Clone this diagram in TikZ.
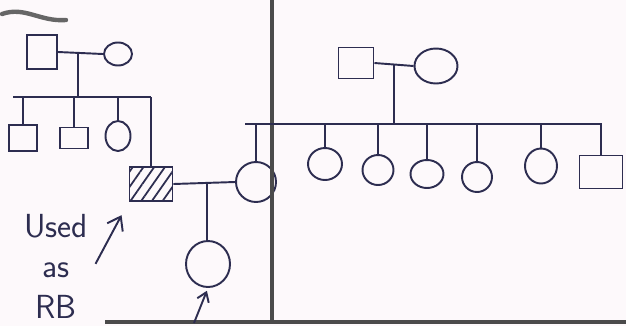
\documentclass[tikz,border=0pt]{standalone}
\usetikzlibrary{shapes.geometric, arrows.meta, patterns.meta, calc}
\definecolor{pen}{RGB}{45,45,80}
\definecolor{divider}{RGB}{75,75,75}
\definecolor{paper}{RGB}{253,249,251}

\begin{document}
\begin{tikzpicture}[x=0.02cm, y=-0.02cm, thick]
    \tikzstyle{male} = [rectangle, draw=pen, line width=1.1pt, inner sep=0pt]
    \tikzstyle{female} = [ellipse, draw=pen, line width=1.1pt, inner sep=0pt]
    \tikzstyle{line} = [draw=pen, line width=1.1pt]
    \tikzstyle{rule} = [draw=divider, line width=1.9pt]

    % Paper
    \fill [paper] (0,0) rectangle (626,326);
    \useasboundingbox (0,0) rectangle (626,326);

    % Nodes, left family
    \node [male, minimum width=0.6cm, minimum height=0.68cm] (gpa) at (42,52) {};
    \node [female, minimum width=0.56cm, minimum height=0.46cm] (gma) at (118,54) {};
    \node [male, minimum width=0.56cm, minimum height=0.52cm] (son1) at (23,138) {};
    \node [male, minimum width=0.56cm, minimum height=0.42cm] (son2) at (74,138) {};
    \node [female, minimum width=0.5cm, minimum height=0.6cm] (dau1) at (118,136) {};
    \node [male, minimum width=0.86cm, minimum height=0.68cm,
           pattern={Lines[angle=55, distance=5pt, line width=1pt]}, pattern color=pen] (rb) at (151,184) {};
    \node [female, minimum size=0.8cm] (wife) at (256,182) {};
    \node [female, minimum width=0.88cm, minimum height=0.92cm] (child) at (208,264) {};
    \node [text=pen, align=center, font=\sffamily\fontsize{19}{23}\selectfont] (note) at (56,266) {Used\\as\\RB};

    % Nodes, right family
    \node [male, minimum width=0.7cm, minimum height=0.62cm] (rpa) at (356,63) {};
    \node [female, minimum width=0.86cm, minimum height=0.7cm] (rma) at (436,66) {};
    \node [female, minimum width=0.68cm, minimum height=0.64cm] (sis1) at (325,164) {};
    \node [female, minimum width=0.62cm, minimum height=0.6cm] (sis2) at (378,170) {};
    \node [female, minimum width=0.66cm, minimum height=0.56cm] (sis3) at (427,174) {};
    \node [female, minimum width=0.6cm, minimum height=0.6cm] (sis4) at (477,177) {};
    \node [female, minimum width=0.64cm, minimum height=0.7cm] (sis5) at (541,166) {};
    \node [male, minimum width=0.86cm, minimum height=0.66cm] (bro1) at (601,172) {};

    % Sibship ends and pointers
    \coordinate (sibL) at (13,97);
    \coordinate (sibR) at (151,97);
    \coordinate (sib2L) at (245,124);
    \coordinate (sib2R) at (602,124);
    \coordinate (ptr) at (194,323);
    \coordinate (m1) at ($(gpa.east)!0.45!(gma.west)$);
    \coordinate (m2) at ($(rb.east)!0.55!(wife.west)$);
    \coordinate (m3) at ($(rpa.east)!0.5!(rma.west)$);

    % Divider
    \draw [rule] (272,0) -- (272,322);
    \draw [rule] (105,322) -- (626,322);
    \draw [divider!85, line width=2.5pt, line cap=round] (2,14) .. controls (25,6) and (40,22) .. (66,20);

    % Connections, left family
    \path [line] (gpa.east) -- (gma.west);
    \path [line] (m1) -- (m1 |- sibL);
    \path [line] (sibL) -- (sibR);
    \path [line] (son1.north |- sibL) -- (son1.north);
    \path [line] (son2.north |- sibL) -- (son2.north);
    \path [line] (dau1.north |- sibL) -- (dau1.north);
    \path [line] (rb.north |- sibR) -- (rb.north);
    \path [line] (rb.east) -- (wife.west);
    \path [line] (m2) -- (m2 |- child.north);
    \path [line, -{Straight Barb[length=5pt, width=7pt]}, shorten >=0.06cm] (ptr) -- (child.south);
    \path [line, -{Straight Barb[length=7pt, width=10pt]}, shorten <=0.05cm, shorten >=0.3cm] (note.east) -- (rb.south west);

    % Connections, right family
    \path [line] (rpa.east) -- (rma.west);
    \path [line] (m3) -- (m3 |- sib2L);
    \path [line] (sib2L) -- (sib2R);
    \path [line] (wife.north |- sib2L) -- (wife.north);
    \foreach \kid in {sis1, sis2, sis3, sis4, sis5, bro1}
        \path [line] (\kid.north |- sib2L) -- (\kid.north);
\end{tikzpicture}
\end{document}
